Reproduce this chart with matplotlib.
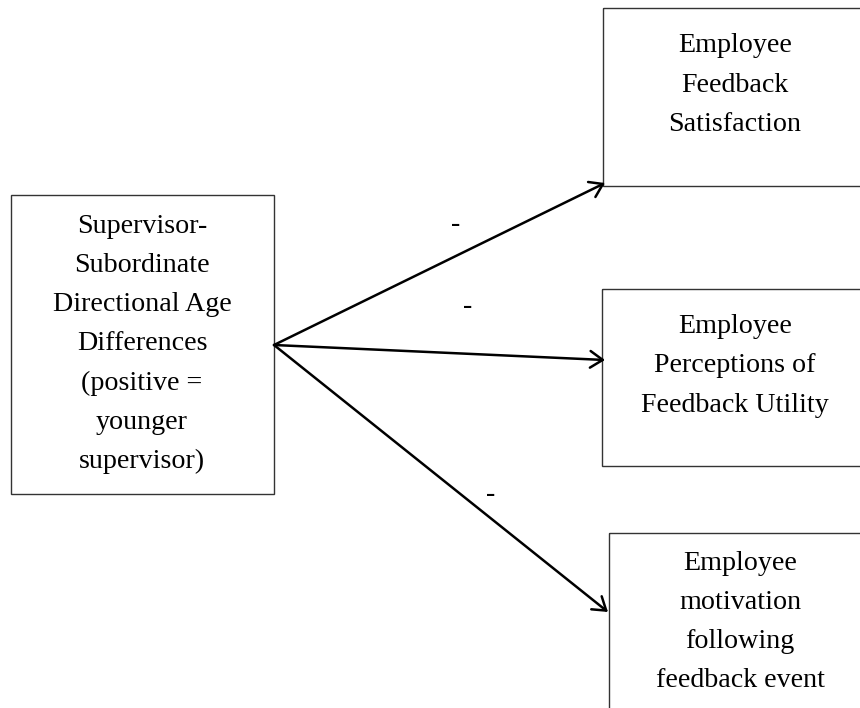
import matplotlib.pyplot as plt
from matplotlib.patches import Rectangle, FancyArrowPatch

# box labels (pixel layout of the original diagram, y grows downward)
box_labels = [
    "Supervisor-\nSubordinate\nDirectional Age\nDifferences\n(positive =\nyounger\nsupervisor)",
    "Employee\nFeedback\nSatisfaction",
    "Employee\nPerceptions of\nFeedback Utility",
    "Employee\nmotivation\nfollowing\nfeedback event",
]
# x0, y0, x1, y1
box_rects = [
    (11, 195, 274, 494),
    (603, 8, 880, 186),
    (602, 289, 880, 466),
    (609, 533, 880, 730),
]
label_centers = [(142, 344), (735, 85), (735, 366), (740, 622)]

arrow_start = (274, 345)
arrow_ends = [(605, 183), (605, 360), (608, 612)]
arrow_signs = ["-", "-", "-"]
sign_pos = [(456, 225), (468, 306), (491, 494)]

plt.rcParams['font.family'] = ['Liberation Serif', 'DejaVu Serif']

fig = plt.figure(figsize=(8.6, 7.08), dpi=100)
ax = fig.add_axes([0, 0, 1, 1])
ax.set_xlim(0, 860)
ax.set_ylim(708, 0)
ax.axis('off')

for (x0, y0, x1, y1), lab, (cx, cy) in zip(box_rects, box_labels, label_centers):
    ax.add_patch(Rectangle((x0, y0), x1 - x0, y1 - y0, fill=False,
                           edgecolor='#333333', linewidth=1.0))
    ax.text(cx, cy, lab, ha='center', va='center', fontsize=20.2,
            linespacing=1.74, color='black')

for end in arrow_ends:
    ax.add_patch(FancyArrowPatch(arrow_start, end,
                                 arrowstyle='->,head_length=0.45,head_width=0.3',
                                 mutation_scale=20, color='black',
                                 linewidth=1.8, shrinkA=0, shrinkB=0))

for s, (sx, sy) in zip(arrow_signs, sign_pos):
    ax.text(sx, sy, s, ha='center', va='center', fontsize=20)

plt.savefig('out.png', dpi=100)
